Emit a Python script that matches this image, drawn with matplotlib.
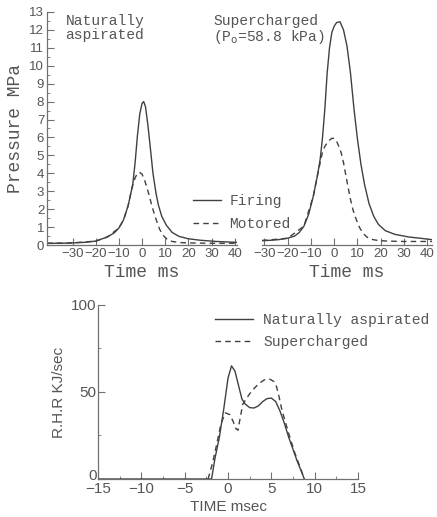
import matplotlib.pyplot as plt
from matplotlib.ticker import MultipleLocator
from matplotlib.transforms import ScaledTranslation

# --- data ---
# top left: naturally aspirated, pressure (MPa) vs time (ms)
na_fire_t = [-41, -35, -30, -25, -20, -15, -12, -10, -8, -6, -4, -3, -2, -1, 0, 0.7, 1.5, 2.5, 3.5, 4.7,
             6, 7, 8.5, 10.5, 13, 16, 20, 25, 32, 41]
na_fire_p = [0.1, 0.1, 0.12, 0.15, 0.22, 0.45, 0.68, 0.95, 1.4, 2.2, 3.4, 4.6, 6.1, 7.3, 7.9, 8.0, 7.7, 6.7, 5.5, 4.0,
             2.9, 2.25, 1.6, 1.1, 0.7, 0.48, 0.35, 0.27, 0.2, 0.15]
na_mot_t = [-41, -30, -20, -15, -10, -8, -6, -5, -4, -3, -2, -1, 0, 1, 2, 3, 4, 5, 6, 7.5,
            9, 11, 13, 16, 20, 30, 41]
na_mot_p = [0.1, 0.12, 0.22, 0.45, 0.95, 1.4, 2.2, 2.8, 3.35, 3.75, 4.0, 4.05, 3.95, 3.65, 3.25, 2.8, 2.3, 1.85, 1.45, 0.9,
            0.55, 0.3, 0.2, 0.14, 0.12, 0.1, 0.1]

# top right: supercharged
sc_fire_t = [-31, -28, -24, -20, -17, -15, -13, -11, -9, -7, -6, -5, -4, -3, -2, -1, 0, 1, 2.5, 4, 5.5,
             7, 8.5, 10, 11.5, 13, 15, 17, 19, 22, 26, 32, 37, 42]
sc_fire_p = [0.25, 0.26, 0.3, 0.38, 0.5, 0.7, 1.05, 1.7, 2.7, 4.0, 4.8, 6.0, 7.6, 9.6, 11.0, 11.85, 12.2, 12.4, 12.45, 12.0, 11.1,
             9.6, 7.6, 5.9, 4.5, 3.4, 2.3, 1.6, 1.15, 0.8, 0.6, 0.45, 0.38, 0.3]
sc_mot_t = [-31, -20, -13, -9, -7, -6, -5, -4, -3, -2, -1, 0, 1, 2, 3, 4, 5, 6, 7, 8,
            9, 10, 11, 12.5, 14, 16, 19, 23, 30, 42]
sc_mot_p = [0.25, 0.38, 1.05, 2.7, 4.0, 4.6, 5.2, 5.5, 5.7, 5.85, 5.95, 5.95, 5.8, 5.5, 5.15, 4.6, 3.9, 3.2, 2.55, 2.0,
            1.6, 1.25, 0.95, 0.65, 0.45, 0.32, 0.25, 0.22, 0.2, 0.2]

# bottom: rate of heat release (kJ/sec) vs time (msec)
rhr_na_t = [-15, -1.9, -1.5, -1.0, -0.5, 0, 0.4, 0.8, 1.2, 1.6, 2.0, 2.5, 3.0, 3.5, 4.0, 4.5, 5.0, 5.5,
            6.0, 6.5, 7.0, 7.5, 8.0, 8.5, 8.8]
rhr_na = [0, 0, 12, 24, 40, 58, 65, 62, 54, 46, 43, 41, 40.8, 42, 44.5, 46.2, 46.5, 44.5,
          39, 32, 24, 17, 10, 4, 0]
rhr_sc_t = [-2.3, -1.8, -1.35, -0.8, -0.3, 0.2, 0.6, 0.9, 1.15, 1.4, 1.7, 2.1, 2.5, 3.0, 3.6, 4.2, 4.8,
            5.3, 5.6, 5.9, 6.2, 6.6, 7.1, 7.7, 8.3, 8.8]
rhr_sc = [0, 9, 19, 32, 38, 37, 33, 29, 28, 35, 43, 46, 49, 52, 55, 57, 57.4,
          56, 53, 47, 40, 33, 24.5, 15, 7, 0]

top_yticks = list(range(0, 14))
top_xticks = [-30, -20, -10, 0, 10, 20, 30, 40]

LINE = '#404040'
TXT = '#555555'
SPINE = '#707070'
DASH = (0, (4, 3))
MONO = 'Liberation Mono'
SANS = 'Liberation Sans'

fig = plt.figure(figsize=(4.37, 5.17), dpi=100)


def style_top(ax):
    for s in ['top', 'right']:
        ax.spines[s].set_visible(False)
    for s in ax.spines.values():
        s.set_color(SPINE)
        s.set_linewidth(0.9)
    ax.patch.set_alpha(0)
    ax.set_ylim(0, 13)
    ax.set_xticks(top_xticks)
    ax.set_xticklabels([f'\u2212{-v}' if v < 0 else str(v) for v in top_xticks],
                       fontfamily=SANS, fontsize=9.5, color=TXT)
    ax.tick_params(axis='x', direction='in', length=5, color=SPINE, pad=2)
    ax.set_xlabel('Time ms', fontfamily=MONO, fontsize=13, color=TXT, labelpad=3)


# --- top left ---
ax1 = fig.add_axes([0.1076, 0.526, 0.435, 0.451])
l_fire, = ax1.plot(na_fire_t, na_fire_p, color=LINE, lw=1.0, label='Firing')
l_mot, = ax1.plot(na_mot_t, na_mot_p, color=LINE, lw=1.0, ls=DASH, label='Motored')
ax1.set_xlim(-41, 41)
style_top(ax1)
ax1.set_yticks(top_yticks)
ax1.set_yticklabels([str(v) for v in top_yticks], fontfamily=SANS, fontsize=9.5, color=TXT)
ax1.yaxis.set_minor_locator(MultipleLocator(0.5))
ax1.tick_params(axis='y', which='major', direction='in', length=5, color=SPINE, pad=2)
ax1.tick_params(axis='y', which='minor', direction='in', length=2.5, color=SPINE)
ax1.set_ylabel('Pressure MPa', fontfamily=MONO, fontsize=13, color=TXT, labelpad=4)
ax1.text(-33, 12.9, 'Naturally\naspirated', fontfamily=MONO, fontsize=10.5, color=TXT,
         va='top', ha='left', linespacing=1.0)

# --- top right ---
ax2 = fig.add_axes([0.5995, 0.526, 0.389, 0.451])
ax2.plot(sc_fire_t, sc_fire_p, color=LINE, lw=1.0)
ax2.plot(sc_mot_t, sc_mot_p, color=LINE, lw=1.0, ls=DASH)
ax2.set_xlim(-31, 42)
style_top(ax2)
ax2.spines['left'].set_visible(False)
ax2.set_yticks([])
ax2.text(-52, 12.9, 'Supercharged\n(P$_\\mathrm{o}$=58.8 kPa)', fontfamily=MONO, fontsize=10.5,
         color=TXT, va='top', ha='left', linespacing=1.0)

# legend of the top pair sits over the gap between the two panels
fig.legend(handles=[l_fire, l_mot], loc='upper left', bbox_to_anchor=(180 / 437, 1 - 181 / 517),
           frameon=False, handlelength=1.9, handletextpad=0.6, labelspacing=0.62,
           prop={'family': MONO, 'size': 10.5}, labelcolor=TXT)

# --- bottom ---
ax3 = fig.add_axes([0.2243, 0.0735, 0.595, 0.3366])
ax3.plot(rhr_na_t, rhr_na, color=LINE, lw=1.0, label='Naturally aspirated')
ax3.plot(rhr_sc_t, rhr_sc, color=LINE, lw=1.0, ls=DASH, label='Supercharged')
ax3.set_xlim(-15, 15)
ax3.set_ylim(0, 100)
for s in ['top', 'right']:
    ax3.spines[s].set_visible(False)
for s in ax3.spines.values():
    s.set_color(SPINE)
    s.set_linewidth(0.9)
ax3.set_xticks([-15, -10, -5, 0, 5, 10, 15])
ax3.set_xticklabels(['\u221215', '\u221210', '\u22125', '0', '5', '10', '15'],
                    fontfamily=SANS, fontsize=11, color=TXT)
ax3.set_yticks([0, 50, 100])
ax3.set_yticklabels(['0', '50', '100'], fontfamily=SANS, fontsize=11, color=TXT)
ax3.xaxis.set_minor_locator(MultipleLocator(2.5))
ax3.yaxis.set_minor_locator(MultipleLocator(25))
ax3.tick_params(which='major', direction='in', length=5, color=SPINE, pad=2)
ax3.tick_params(axis='y', which='major', pad=1)
ax3.tick_params(which='minor', direction='in', length=2.5, color=SPINE)
ax3.set_xlabel('TIME msec', fontfamily=SANS, fontsize=11, color=TXT, labelpad=3)
ax3.set_ylabel('R.H.R KJ/sec', fontfamily=SANS, fontsize=11, color=TXT, labelpad=4)
ax3.legend(loc='upper left', bbox_to_anchor=(0.4, 1.03), frameon=False, handlelength=2.6,
           handletextpad=0.7, labelspacing=0.55, prop={'family': MONO, 'size': 10.5},
           labelcolor=TXT)

# nudge the y "0" up a little so it clears the "-15" below it
lab0 = ax3.yaxis.get_major_ticks()[0].label1
lab0.set_transform(lab0.get_transform() + ScaledTranslation(0, 3 / 72, fig.dpi_scale_trans))

fig.savefig('out.png', dpi=100)
